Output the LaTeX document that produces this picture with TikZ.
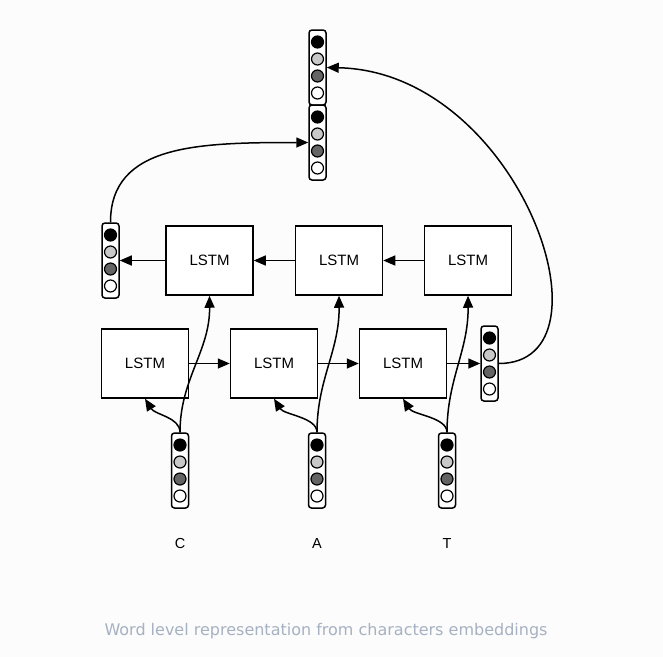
\documentclass[tikz,border=0pt]{standalone}
\usepackage{fontspec}
\setmainfont{Liberation Sans}
\newfontfamily\capfont{DejaVu Sans}
\usetikzlibrary{arrows.meta}
\definecolor{bgc}{RGB}{252,252,252}
\definecolor{lightc}{RGB}{200,200,200}
\definecolor{darkc}{RGB}{100,100,100}
\definecolor{capc}{RGB}{166,177,193}
\tikzset{
 lstm/.style={draw, line width=1.5pt, fill=white, minimum width=87pt, minimum height=69pt, inner sep=0pt, font=\fontsize{15}{18}\selectfont},
 vec/.style={draw, line width=1.5pt, fill=white, rounded corners=3pt, minimum width=17pt, minimum height=75pt, inner sep=0pt,
   path picture={
   \foreach \s/\c in {25.5/black,8.5/lightc,-8.5/darkc,-25.5/white}
     \draw[line width=1.2pt, fill=\c] ([yshift=\s pt]path picture bounding box.center) circle[radius=6pt];}},
 arr/.style={line width=1.5pt, -{Triangle[length=12pt,width=10pt]}},
 lab/.style={font=\fontsize{14.5}{17}\selectfont}
}
\begin{document}
\begin{tikzpicture}[x=1pt,y=-1pt]
\path[fill=bgc] (0,0) rectangle (663,657);
\node[vec] (t1) at (317.5,67.5) {};
\node[vec] (t2) at (317.5,142.5) {};
\node[vec] (lv) at (110.5,260.5) {};
\node[lstm] (u1) at (209.5,260.5) {LSTM};
\node[lstm] (u2) at (339,260.5) {LSTM};
\node[lstm] (u3) at (468,260.5) {LSTM};
\node[lstm] (l1) at (145,363.5) {LSTM};
\node[lstm] (l2) at (274,363.5) {LSTM};
\node[lstm] (l3) at (403,363.5) {LSTM};
\node[vec] (rv) at (489.5,363.5) {};
\node[vec] (vc) at (180,470.5) {};
\node[vec] (va) at (317,470.5) {};
\node[vec] (vt) at (447,470.5) {};
\node[lab] (cc) at (180,543) {C};
\node[lab] (ca) at (317,543) {A};
\node[lab] (ct) at (447,543) {T};
\node[font=\capfont\fontsize{16}{19}\selectfont, text=capc] (cap) at (326,631) {Word level representation from characters embeddings};
\draw[arr] (u3.west) -- (u2.east);
\draw[arr] (u2.west) -- (u1.east);
\draw[arr] (u1.west) -- (lv.east);
\draw[arr] (l1.east) -- (l2.west);
\draw[arr] (l2.east) -- (l3.west);
\draw[arr] (l3.east) -- (rv.west);
\draw[arr] (lv.north) .. controls +(0,-78) and +(-110,0) .. (t2.west);
\draw[arr] (rv.east) .. controls +(122,0) and +(193,4) .. (t1.east);
\foreach \v/\l/\u in {vc/l1/u1, va/l2/u2, vt/l3/u3} {
  \draw[arr] (\v.north) .. controls +(0,-15) and +(10,16) .. (\l.south);
  \draw[arr] (\v.north) .. controls +(0,-53) and +(0.5,55) .. (\u.south);
}
\end{tikzpicture}
\end{document}
